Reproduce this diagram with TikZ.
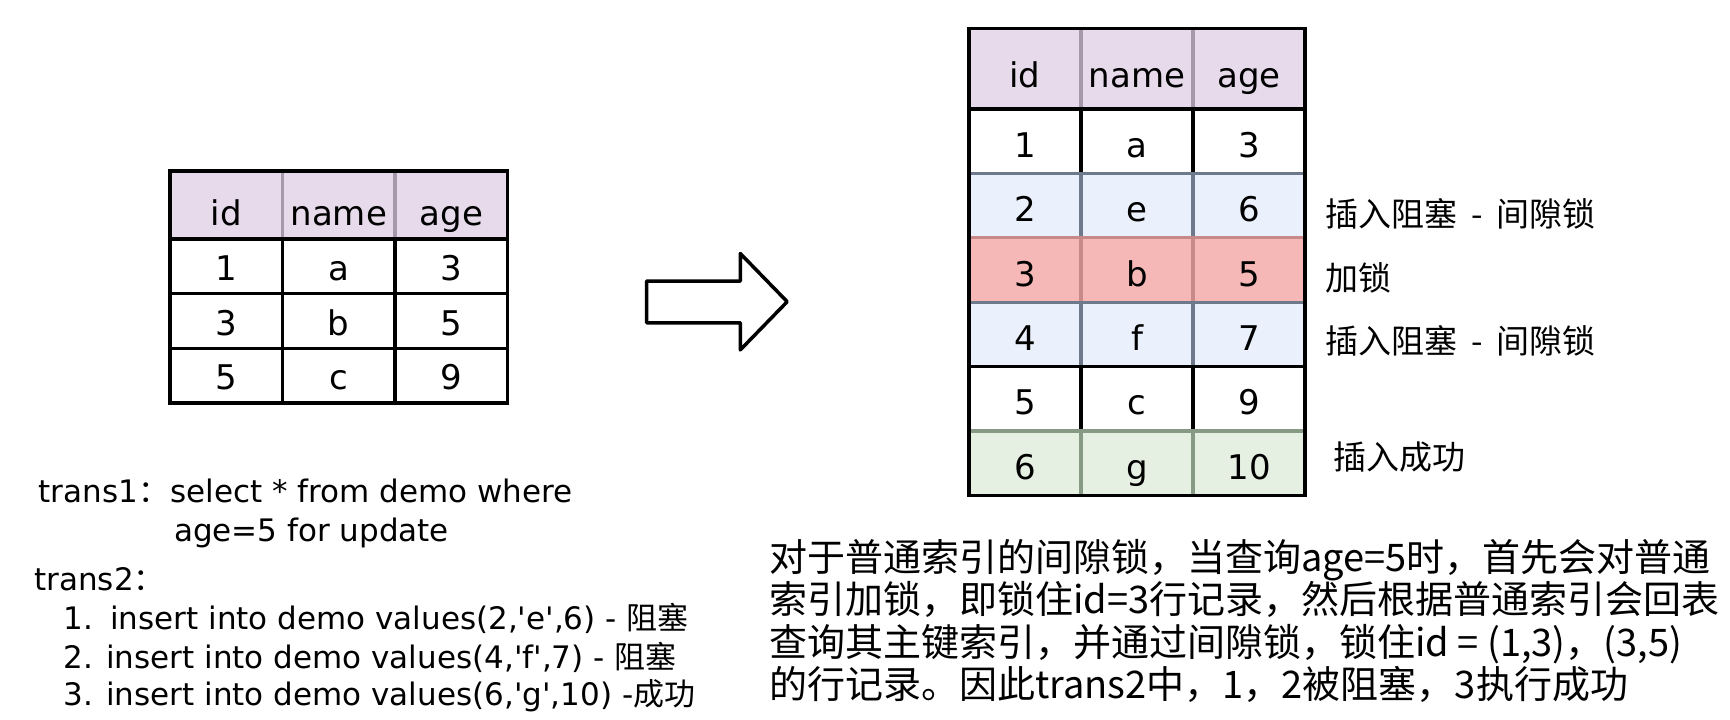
\documentclass[tikz,border=0pt]{standalone}
\usepackage{fontspec}
\setmainfont{DejaVu Sans}
\newfontfamily\cjk{Noto Sans CJK SC}
\definecolor{hdrfill}{HTML}{E6DAEB}
\definecolor{hdrline}{HTML}{A898AC}
\definecolor{bluefill}{HTML}{EAF1FC}
\definecolor{blueline}{HTML}{6E7A8C}
\definecolor{redfill}{HTML}{F5B8B6}
\definecolor{redline}{HTML}{C88A88}
\definecolor{grnfill}{HTML}{E5F0E2}
\definecolor{grnline}{HTML}{869A84}
\newcommand\sq{\textquotesingle}
\newcommand\dashsep{\hspace{0.42em}-\hspace{0.42em}}
\begin{document}
\begin{tikzpicture}[x=1pt,y=-1pt,
  cell/.style={draw=black, line width=3.3pt, rectangle, inner sep=0pt, outer sep=0pt,
    anchor=center, font=\fontsize{34}{40}\selectfont, text depth=0pt, fill=white},
  lcell/.style={cell, minimum width=112.5pt, minimum height=54.67pt, text height=28pt},
  lhdr/.style={cell, minimum width=112.5pt, minimum height=68pt, text height=40pt, fill=hdrfill, draw=hdrline},
  rcell/.style={cell, minimum width=112pt, minimum height=64.42pt, text height=32pt},
  rhdr/.style={cell, minimum width=112pt, minimum height=80.5pt, text height=38pt, fill=hdrfill, draw=hdrline},
  blue/.style={fill=bluefill, draw=blueline},
  red/.style={fill=redfill, draw=redline},
  grn/.style={fill=grnfill, draw=grnline},
  frame/.style={draw=black, line width=3.3pt},
  ltext/.style={anchor=base west, inner sep=0pt, font=\fontsize{31}{37}\selectfont},
  ptext/.style={anchor=base west, inner sep=0pt, font=\cjk\fontsize{38}{42}\selectfont},
  note/.style={anchor=base west, inner sep=0pt, font=\cjk\fontsize{33}{38}\selectfont},
  blockarrow/.style={draw=black, line width=3.5pt, line join=round, fill=white}
]
\useasboundingbox (0,0) rectangle (1730,720);

% ---------- left table ----------
\node[lhdr] (Lh1) at (226.25,205) {id};
\node[lhdr] (Lh2) at (338.75,205) {name};
\node[lhdr] (Lh3) at (451.25,205) {age};
\node[lcell] (L11) at (226.25,266.3) {1};
\node[lcell] (L12) at (338.75,266.3) {a};
\node[lcell] (L13) at (451.25,266.3) {3};
\node[lcell] (L21) at (226.25,321) {3};
\node[lcell] (L22) at (338.75,321) {b};
\node[lcell] (L23) at (451.25,321) {5};
\node[lcell] (L31) at (226.25,375.7) {5};
\node[lcell] (L32) at (338.75,375.7) {c};
\node[lcell] (L33) at (451.25,375.7) {9};
\draw[frame] (Lh1.north west) rectangle (L33.south east);

% ---------- block arrow ----------
\draw[blockarrow] (646.6,281) -- (740.3,281) -- (740.3,253.5) -- (787.2,301.7)
  -- (740.3,349.9) -- (740.3,322.8) -- (646.6,322.8) -- cycle;

% ---------- right table ----------
\node[rhdr] (Rh1) at (1025,68.75) {id};
\node[rhdr] (Rh2) at (1137,68.75) {name};
\node[rhdr] (Rh3) at (1249,68.75) {age};
\node[rcell] (R11) at (1025,141.2) {1};
\node[rcell] (R12) at (1137,141.2) {a};
\node[rcell] (R13) at (1249,141.2) {3};
\node[rcell,blue] (R21) at (1025,205.6) {2};
\node[rcell,blue] (R22) at (1137,205.6) {e};
\node[rcell,blue] (R23) at (1249,205.6) {6};
\node[rcell,red] (R31) at (1025,270.0) {3};
\node[rcell,red] (R32) at (1137,270.0) {b};
\node[rcell,red] (R33) at (1249,270.0) {5};
\node[rcell,blue] (R41) at (1025,334.5) {4};
\node[rcell,blue] (R42) at (1137,334.5) {f};
\node[rcell,blue] (R43) at (1249,334.5) {7};
\node[rcell] (R51) at (1025,398.9) {5};
\node[rcell] (R52) at (1137,398.9) {c};
\node[rcell] (R53) at (1249,398.9) {9};
\node[rcell,grn] (R61) at (1025,463.3) {6};
\node[rcell,grn] (R62) at (1137,463.3) {g};
\node[rcell,grn] (R63) at (1249,463.3) {10};
\draw[frame] (Rh1.north west) rectangle (R63.south east);

% ---------- notes beside right table ----------
\node[note] (n1) at (1325,226.5) {插入阻塞\dashsep 间隙锁};
\node[note] (n2) at (1325,290.5) {加锁};
\node[note] (n3) at (1325,353.5) {插入阻塞\dashsep 间隙锁};
\node[note] (n4) at (1333,469.5) {插入成功};

% ---------- left text ----------
\node[ltext] (t1) at (38.6,502.8) {\makebox[131.4pt][l]{trans1{\cjk ：}}select * from demo where};
\node[ltext] (t2) at (173.8,541.8) {age=5 for update};
\node[ltext] (t3) at (34.2,590) {trans2{\cjk ：}};
\node[ltext] (t4) at (63.4,629) {1.\hspace{0.55em}insert into demo values(2,\sq e\sq,6) - {\cjk 阻塞}};
\node[ltext] (t5) at (63.4,668) {2. insert into demo values(4,\sq f\sq,7) - {\cjk 阻塞}};
\node[ltext] (t6) at (63.4,705.8) {3. insert into demo values(6,\sq g\sq,10) -{\cjk 成功}};

% ---------- explanation paragraph ----------
\node[ptext] (p1) at (769,571.5) {对于普通索引的间隙锁，当查询age=5时，首先会对普通};
\node[ptext] (p2) at (769,613.5) {索引加锁，即锁住id=3行记录，然后根据普通索引会回表};
\node[ptext] (p3) at (769,656.5) {查询其主键索引，并通过间隙锁，锁住id = (1,3)，(3,5)};
\node[ptext] (p4) at (769,698.5) {的行记录。因此trans2中，1，2被阻塞，3执行成功};
\end{tikzpicture}
\end{document}
